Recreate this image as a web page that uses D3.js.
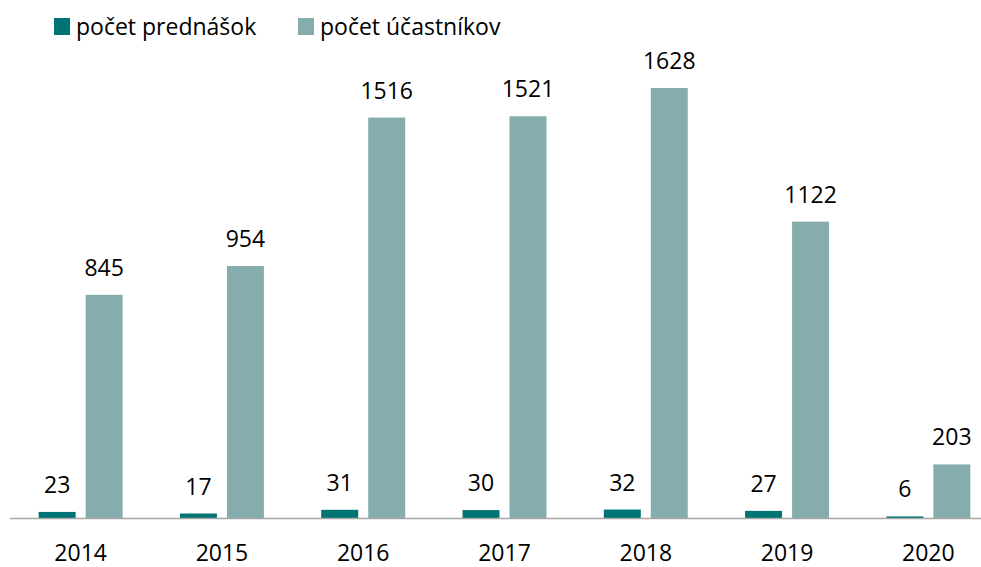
<!DOCTYPE html>
<html><head><meta charset="utf-8">
<script src="https://cdn.jsdelivr.net/npm/d3@7"></script>
<style>body{margin:0;background:#fff}svg{display:block}text{font-family:"Open Sans","Noto Sans",sans-serif}</style>
</head><body><svg id="c" width="981" height="567"></svg>
<script>
const years = ["2014","2015","2016","2017","2018","2019","2020"];
const lectures = [23,17,31,30,32,27,6];
const participants = [845,954,1516,1521,1628,1122,203];
const seriesNames = ["počet prednášok","počet účastníkov"];
const colors = ["#007474","#86ADAE"];

const svg = d3.select("#c");
const baseY = 518;
const fs = 23;
const x = d3.scaleBand().domain(years).range([10, 999]).paddingInner(0).paddingOuter(0);
const y = d3.scaleLinear().domain([0, 1628]).range([baseY, 88]);
const inner = d3.scaleBand().domain([0,1]).range([0, x.bandwidth()]).paddingInner(0.213).paddingOuter(0.61);

const data = years.map((yr,i)=>({yr, vals:[lectures[i], participants[i]]}));
const g = svg.append("g");
data.forEach(d=>{
  d.vals.forEach((v,k)=>{
    const bx = x(d.yr)+inner(k);
    g.append("rect").attr("x",bx).attr("width",inner.bandwidth())
      .attr("y",y(v)).attr("height",baseY-y(v)).attr("fill",colors[k]);
    g.append("text").attr("x",bx+inner.bandwidth()/2).attr("y",y(v)-19)
      .attr("text-anchor","middle").attr("font-size",fs).attr("fill","#000").text(v);
  });
});
// axis
const ax = svg.append("g").attr("transform",`translate(0,${baseY})`)
  .call(d3.axisBottom(x).tickSize(0).tickPadding(0));
ax.select(".domain").attr("stroke","#a6a6a6").attr("stroke-width",1.5).attr("d","M10,0.5H981");
ax.selectAll(".tick text").attr("font-size",fs).attr("fill","#000").attr("dy","0").attr("y",43)
  .style("font-family",'"Open Sans","Noto Sans",sans-serif');

// legend
const legX = [54, 298];
seriesNames.forEach((n,k)=>{
  svg.append("rect").attr("x",legX[k]).attr("y",18).attr("width",16).attr("height",17).attr("fill",colors[k]);
  svg.append("text").attr("x",legX[k]+22).attr("y",35).attr("font-size",fs).attr("fill","#000").text(n);
});
</script></body></html>
